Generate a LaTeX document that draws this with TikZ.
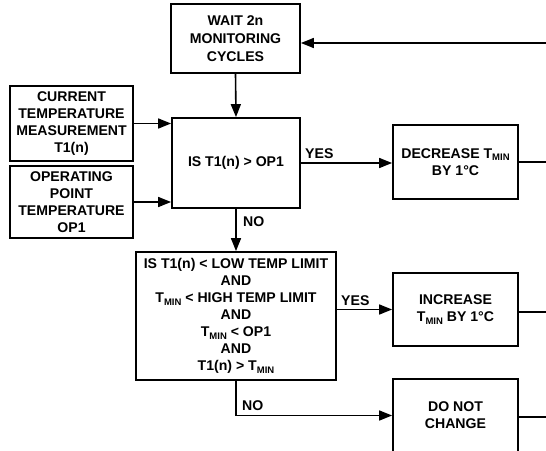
\documentclass[tikz,border=0pt]{standalone}
\usepackage{fontspec}
\setmainfont{Liberation Sans}
\usetikzlibrary{arrows.meta}
\newcommand\Tmin{T\raisebox{-2.5pt}{\fontsize{9.5}{10}\selectfont MIN}}
\begin{document}
\begin{tikzpicture}[x=1pt,y=-1pt,
  font=\fontsize{14.1}{17.1}\selectfont\bfseries,
  box/.style={draw, line width=1.8pt, inner sep=0pt, align=center},
  conn/.style={line width=1.6pt, -{Triangle[length=13pt,width=10pt]}},
  plain/.style={line width=1.6pt},
  lbl/.style={inner sep=0pt, anchor=base west}]
\useasboundingbox (0,0) rectangle (546,450);
\clip (0,0) rectangle (546,450);

\node[box, minimum width=129pt, minimum height=69pt, font=\fontsize{14.1}{18.3}\selectfont\bfseries]
  (wait) at (235.5,38.5) {WAIT 2n\\MONITORING\\CYCLES};
\node[box, minimum width=123pt, minimum height=75pt] (cur) at (71.5,123.5)
  {CURRENT\\TEMPERATURE\\MEASUREMENT\\T1(n)};
\node[box, minimum width=123pt, minimum height=72pt] (op) at (71.5,202)
  {OPERATING\\POINT\\TEMPERATURE\\OP1};
\node[box, minimum width=128pt, minimum height=90pt] (d1) at (236,163)
  {IS T1(n) > OP1};
\node[box, minimum width=200pt, minimum height=128pt] (d2) at (236,316)
  {IS T1(n) < LOW TEMP LIMIT\\AND\\\Tmin{} < HIGH TEMP LIMIT\\AND\\\Tmin{} < OP1\\AND\\T1(n) > \Tmin};
\node[box, minimum width=125pt, minimum height=74pt] (dec) at (455.5,162)
  {DECREASE \Tmin\\BY 1°C};
\node[box, minimum width=125pt, minimum height=73pt] (inc) at (455.5,309.5)
  {INCREASE\\\Tmin{} BY 1°C};
\node[box, minimum width=125pt, minimum height=73pt] (dnc) at (455.5,415.5)
  {DO NOT\\CHANGE};

\coordinate (topin) at (548,43);
\coordinate (decout) at (548,162);
\coordinate (incout) at (548,312);
\coordinate (dncout) at (548,417);

\draw[conn] (topin) -- (topin -| wait.east);
\draw[conn] (wait.south) -- (d1.north);
\draw[conn] (cur.east) -- (cur.east -| d1.west);
\draw[conn] (op.east) -- (op.east -| d1.west);
\draw[conn] (d1.east) -- (d1.east -| dec.west);
\draw[conn] (d1.south) -- (d2.north);
\draw[conn] (inc.west -| d2.east) -- (inc.west);
\draw[conn] (d2.south) |- (dnc.west);
\draw[plain] (dec.east) -- (decout);
\draw[plain] (inc.east |- incout) -- (incout);
\draw[plain] (dnc.east |- dncout) -- (dncout);

\node[lbl] (yes1) at (305,158) {YES};
\node[lbl] (no1) at (243,226.5) {NO};
\node[lbl] (yes2) at (341,305.7) {YES};
\node[lbl] (no2) at (242,410.7) {NO};
\end{tikzpicture}
\end{document}
